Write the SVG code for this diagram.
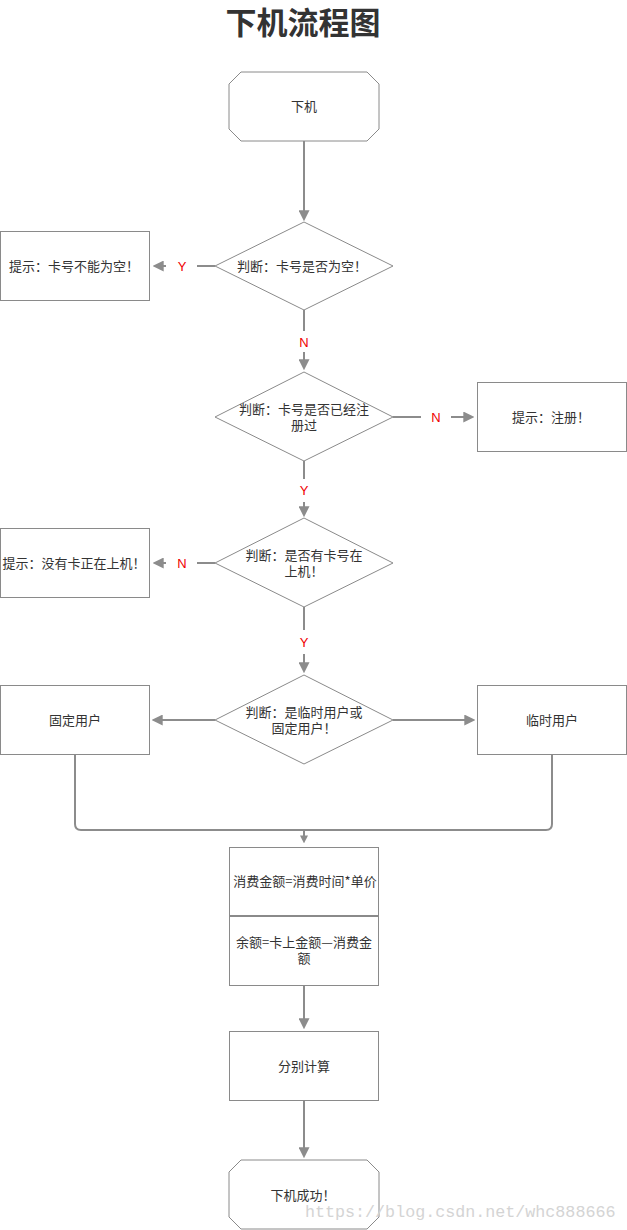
<svg xmlns="http://www.w3.org/2000/svg" width="627" height="1230" viewBox="0 0 627 1230">
<style>
.node{fill:#fff;stroke:#8a8a8a;stroke-width:1}
.t{font-family:"Noto Sans CJK SC","Microsoft YaHei",sans-serif;font-size:13px;fill:#333;text-anchor:middle}
.lbl{font-family:"Liberation Sans","Noto Sans",sans-serif;font-size:13px;fill:#f00000;text-anchor:middle}
.ln{fill:none;stroke:#8c8c8c;stroke-width:2}
.arr{fill:none;stroke:#8c8c8c;stroke-width:2;marker-end:url(#ah)}
</style>
<defs>
<marker id="ah" viewBox="0 0 10 10" refX="7" refY="5" markerWidth="11" markerHeight="11" markerUnits="userSpaceOnUse" orient="auto">
<path d="M0,0 L10,5 L0,10 z" fill="#8c8c8c"/>
</marker>
<marker id="ahs" viewBox="0 0 10 10" refX="7" refY="5" markerWidth="8" markerHeight="8" markerUnits="userSpaceOnUse" orient="auto">
<path d="M0,0 L10,5 L0,10 z" fill="#8c8c8c"/>
</marker>
</defs>
<rect width="627" height="1230" fill="#fff"/>
<text x="303" y="34" font-family="'Noto Sans CJK SC',sans-serif" font-size="31" font-weight="bold" fill="#333" text-anchor="middle">下机流程图</text>

<g id="connectors">
<path class="arr" d="M304,141 V218"/>
<path class="ln" d="M215,266 H197"/>
<text class="lbl" x="182" y="271">Y</text>
<path class="arr" d="M166,266 H156"/>
<path class="ln" d="M304,310 V331"/>
<text class="lbl" x="304" y="347">N</text>
<path class="arr" d="M304,352 V367"/>
<path class="ln" d="M393,417 H421"/>
<text class="lbl" x="436" y="422">N</text>
<path class="arr" d="M451,417 H471"/>
<path class="ln" d="M304,461 V479"/>
<text class="lbl" x="304" y="495">Y</text>
<path class="arr" d="M304,502 V514"/>
<path class="ln" d="M215,563 H197"/>
<text class="lbl" x="182" y="568">N</text>
<path class="arr" d="M166,563 H156"/>
<path class="ln" d="M304,607 V630"/>
<text class="lbl" x="304" y="647">Y</text>
<path class="arr" d="M304,654 V670"/>
<path class="arr" d="M215,720 H155"/>
<path class="arr" d="M393,720 H472"/>
<path class="ln" d="M75,754 V824 Q75,830 81,830 H546 Q552,830 552,824 V754"/>
<path class="ln" d="M304,830 V841" marker-end="url(#ahs)"/>
<path class="arr" d="M304,985 V1026"/>
<path class="arr" d="M304,1100 V1155"/>
</g>

<g id="start">
<path class="node" d="M241,72 H367 L379,84 V129 L367,141 H241 L229,129 V84 Z"/>
<text class="t" x="304" y="111">下机</text>
</g>
<g id="d1">
<path class="node" d="M304,222 L393,266 L304,310 L215,266 Z"/>
<text class="t" x="302" y="271">判断：卡号是否为空！</text>
</g>
<g id="msg1">
<rect class="node" x="0.5" y="231.5" width="149" height="69"/>
<text class="t" x="74" y="271">提示：卡号不能为空！</text>
</g>
<g id="d2">
<path class="node" d="M304,372 L393,417 L304,461 L215,417 Z"/>
<text class="t" x="304" y="414">判断：卡号是否已经注</text>
<text class="t" x="304" y="430">册过</text>
</g>
<g id="msg2">
<rect class="node" x="477.5" y="382.5" width="149" height="69"/>
<text class="t" x="551" y="422">提示：注册！</text>
</g>
<g id="d3">
<path class="node" d="M304,518 L393,563 L304,607 L215,563 Z"/>
<text class="t" x="304" y="560">判断：是否有卡号在</text>
<text class="t" x="304" y="576">上机！</text>
</g>
<g id="msg3">
<rect class="node" x="0.5" y="528.5" width="149" height="69"/>
<text class="t" x="74" y="568">提示：没有卡正在上机！</text>
</g>
<g id="d4">
<path class="node" d="M304,675 L393,720 L304,764 L215,720 Z"/>
<text class="t" x="304" y="717">判断：是临时用户或</text>
<text class="t" x="304" y="733">固定用户！</text>
</g>
<g id="fixed">
<rect class="node" x="0.5" y="685.5" width="149" height="69"/>
<text class="t" x="75" y="725">固定用户</text>
</g>
<g id="temp">
<rect class="node" x="477.5" y="685.5" width="149" height="69"/>
<text class="t" x="552" y="725">临时用户</text>
</g>
<g id="calc1">
<rect class="node" x="229.5" y="847.5" width="149" height="68"/>
<text class="t" x="305" y="886">消费金额=消费时间*单价</text>
</g>
<g id="calc2">
<rect class="node" x="229.5" y="916.5" width="149" height="69"/>
<text class="t" x="304" y="947">余额=卡上金额—消费金</text>
<text class="t" x="304" y="963">额</text>
</g>
<g id="calc3">
<rect class="node" x="229.5" y="1031.5" width="149" height="69"/>
<text class="t" x="304" y="1071">分别计算</text>
</g>
<g id="end">
<path class="node" d="M241,1160 H367 L379,1172 V1217 L367,1229 H241 L229,1217 V1172 Z"/>
<text class="t" x="303" y="1200">下机成功！</text>
</g>
<text x="305" y="1217" font-family="'Liberation Mono',monospace" font-size="16.7" fill="#d4d4d4">https://blog.csdn.net/whc888666</text>
</svg>
